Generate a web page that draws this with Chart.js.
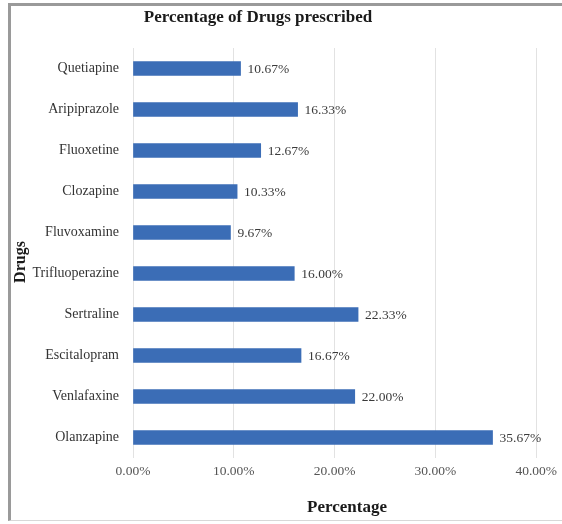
<!DOCTYPE html>
<html>
<head>
<meta charset="utf-8">
<script src="https://cdn.jsdelivr.net/npm/chart.js@4.4.1/dist/chart.umd.min.js"></script>
<style>
  body { margin: 0; background: #fff; }
  #wrap { position: relative; width: 562px; height: 524px; }
  #frame { position: absolute; left: 8px; top: 3px; width: 560px; height: 514px;
    border-left: 3px solid #9a9a9a; border-top: 3px solid #9a9a9a; border-bottom: 1px solid #d8d8d8; }
  canvas { position: absolute; left: 0; top: 0; }
</style>
</head>
<body>
<div id="wrap">
  <div id="frame"></div>
  <canvas id="drugChart" width="562" height="524"></canvas>
</div>
<script>
// data
var drugNames = ['Quetiapine', 'Aripiprazole', 'Fluoxetine', 'Clozapine', 'Fluvoxamine',
  'Trifluoperazine', 'Sertraline', 'Escitalopram', 'Venlafaxine', 'Olanzapine'];
var percentValues = [10.67, 16.33, 12.67, 10.33, 9.67, 16.00, 22.33, 16.67, 22.00, 35.67];
var xTicks = [0, 10, 20, 30, 40];

var serif = '"Liberation Serif", "Times New Roman", serif';

// writes the % value after each bar, plus the titles
var labelPlugin = {
  id: 'barLabels',
  afterDatasetsDraw: function(chart) {
    var ctx = chart.ctx;
    var meta = chart.getDatasetMeta(0);
    ctx.save();
    ctx.font = '13.5px ' + serif;
    ctx.fillStyle = '#3a3a3a';
    ctx.textAlign = 'left';
    ctx.textBaseline = 'middle';
    meta.data.forEach(function(bar, i) {
      ctx.fillText(percentValues[i].toFixed(2) + '%', bar.x + 7, bar.y + 1);
    });
    ctx.font = 'bold 17px ' + serif;
    ctx.fillStyle = '#1a1a1a';
    ctx.textAlign = 'center';
    ctx.fillText('Percentage of Drugs prescribed', 258, 18);
    ctx.fillText('Percentage', 347, 508);
    ctx.font = 'bold 16px ' + serif;
    ctx.translate(21, 262);
    ctx.rotate(-Math.PI / 2);
    ctx.fillText('Drugs', 0, 0);
    ctx.restore();
  }
};

var el = document.getElementById('drugChart').getContext('2d');
new Chart(el, {
  type: 'bar',
  data: {
    labels: drugNames,
    datasets: [{
      label: 'Percentage',
      data: percentValues,
      backgroundColor: '#3b6db6',
      barThickness: 14
    }]
  },
  options: {
    indexAxis: 'y',
    responsive: false,
    animation: false,
    layout: { padding: { top: 48, right: 23, bottom: 0, left: 0 } },
    plugins: {
      legend: { display: false },
      tooltip: { enabled: false }
    },
    scales: {
      x: {
        min: 0,
        max: 40,
        afterBuildTicks: function(scale) {
          scale.ticks = xTicks.map(function(v) { return { value: v }; });
        },
        afterFit: function(scale) { scale.height = 66; },
        grid: { color: '#e2e2e2', drawTicks: false },
        border: { display: false },
        ticks: {
          padding: 5,
          color: '#555',
          font: { family: serif, size: 13.5 },
          callback: function(v) { return v.toFixed(2) + '%'; }
        }
      },
      y: {
        afterFit: function(scale) { scale.width = 133; },
        grid: { display: false },
        border: { display: false },
        ticks: {
          padding: 6,
          color: '#333',
          font: { family: serif, size: 14 }
        }
      }
    }
  },
  plugins: [labelPlugin]
});
</script>
</body>
</html>
